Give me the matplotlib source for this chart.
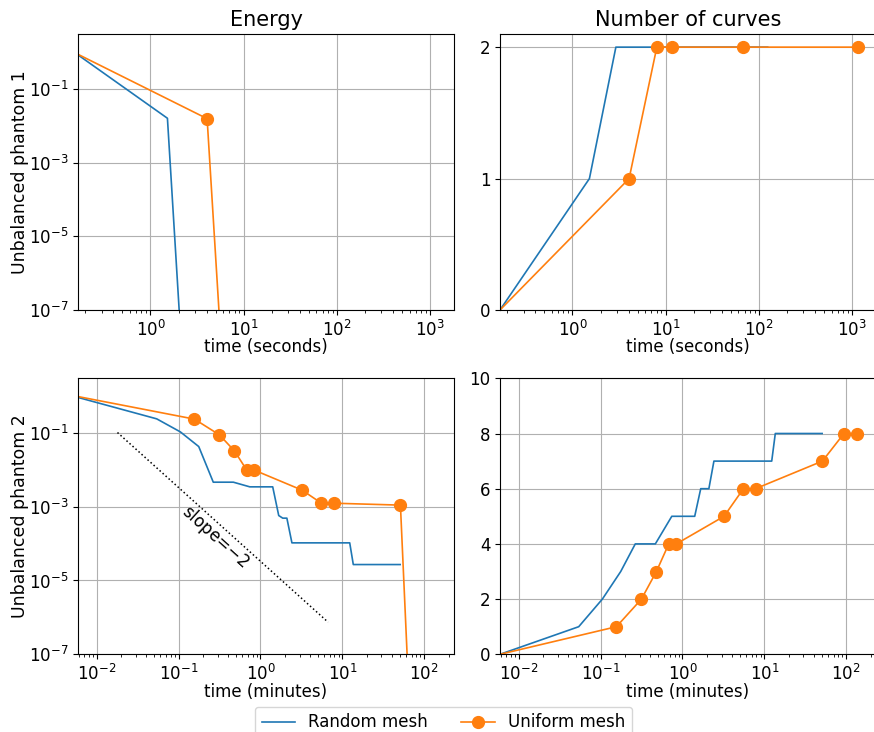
import numpy as np
import matplotlib
matplotlib.use("Agg")
import matplotlib.pyplot as plt
from matplotlib.ticker import NullLocator

# phantom 1, time in seconds
t1_random = [0.167, 1.52, 2.92, 124.0]
e1_random = [0.84, 0.016, 3e-14, 1e-15]
n1_random = [0, 1, 2, 2]

t1_uniform = [0.167, 4.05, 8.03, 11.8, 68.0, 1150.0]
e1_uniform = [0.87, 0.0156, 1e-14, 1e-15, 1e-15, 1e-15]
n1_uniform = [0, 1, 2, 2, 2, 2]

# phantom 2, time in minutes
t2_random = [0.0059, 0.054, 0.105, 0.176, 0.265, 0.466, 0.74, 1.41, 1.67,
             1.87, 2.1, 2.42, 12.3, 13.6, 50.8]
e2_random = [0.91, 0.239, 0.106, 0.0425, 0.0046, 0.0046, 0.00344, 0.00344,
             5.74e-4, 4.88e-4, 4.88e-4, 1.045e-4, 1.045e-4, 2.7e-5, 2.7e-5]
n2_random = [0, 1, 2, 3, 4, 4, 5, 5, 6, 6, 6, 7, 7, 8, 8]

t2_uniform = [0.0059, 0.156, 0.315, 0.48, 0.68, 0.84, 3.22, 5.55, 7.8,
              51.2, 93.8, 136.0]
e2_uniform = [0.96, 0.235, 0.088, 0.0325, 0.00975, 0.00975, 0.0028, 0.00124,
              0.00124, 0.0011, 1e-16, 1e-16]
n2_uniform = [0, 1, 2, 3, 4, 4, 5, 6, 6, 7, 8, 8]

slope_t = [0.0179, 6.7]
slope_e = [0.102, 7.4e-7]

W, H = 874, 732
fig = plt.figure(figsize=(W / 100, H / 100), dpi=100)

def box(x0, y0, x1, y1):
    return [x0 / W, 1 - y1 / H, (x1 - x0) / W, (y1 - y0) / H]

ax_e1 = fig.add_axes(box(78, 34, 454, 310))
ax_n1 = fig.add_axes(box(500, 34, 876, 310))
ax_e2 = fig.add_axes(box(78, 378.3, 454, 654.3))
ax_n2 = fig.add_axes(box(500, 378.3, 876, 654.3))

lw = 1.2
ms = 8.5
rand_kw = dict(color="#1f77b4", lw=lw, label="Random mesh")
unif_kw = dict(color="#ff7f0e", lw=lw, marker="o", markersize=ms,
               markevery=slice(1, None), label="Uniform mesh")

ax_e1.loglog(t1_random, e1_random, **rand_kw)
ax_e1.loglog(t1_uniform, e1_uniform, **unif_kw)
ax_n1.semilogx(t1_random, n1_random, **rand_kw)
ax_n1.semilogx(t1_uniform, n1_uniform, **unif_kw)

ax_e2.loglog(t2_random, e2_random, **rand_kw)
ax_e2.loglog(t2_uniform, e2_uniform, **unif_kw)
ax_e2.loglog(slope_t, slope_e, "k:", lw=1.1)
ax_e2.text(0.278, 1.55e-4, "slope=$-2$", rotation=-42, fontsize=12,
           ha="center", va="center", rotation_mode="anchor")
ax_n2.semilogx(t2_random, n2_random, **rand_kw)
ax_n2.semilogx(t2_uniform, n2_uniform, **unif_kw)

for ax in (ax_e1, ax_n1):
    ax.set_xlim(0.167, 1800)
    ax.set_xlabel("time (seconds)", fontsize=12, labelpad=-1)
for ax in (ax_e2, ax_n2):
    ax.set_xlim(0.0059, 231)
    ax.set_xlabel("time (minutes)", fontsize=12, labelpad=-1)

ax_e1.set_ylim(1e-7, 3.1)
ax_e2.set_ylim(1e-7, 3.0)
for ax in (ax_e1, ax_e2):
    ax.set_yticks([1e-7, 1e-5, 1e-3, 1e-1])
    ax.yaxis.set_minor_locator(NullLocator())

ax_n1.set_ylim(0, 2.1)
ax_n1.set_yticks([0, 1, 2])
ax_n2.set_ylim(0, 10)
ax_n2.set_yticks([0, 2, 4, 6, 8, 10])

ax_e1.set_title("Energy", fontsize=15)
ax_n1.set_title("Number of curves", fontsize=15)
ax_e1.set_ylabel("Unbalanced phantom 1", fontsize=12.5, labelpad=0)
ax_e2.set_ylabel("Unbalanced phantom 2", fontsize=12.5, labelpad=0)

for ax in (ax_e1, ax_n1, ax_e2, ax_n2):
    ax.grid(True)
    ax.tick_params(labelsize=12)

handles, labels = ax_n2.get_legend_handles_labels()
fig.legend(handles, labels, loc="upper center", ncol=2, fontsize=12,
           borderaxespad=0, bbox_to_anchor=(443.4 / W, 1 - 706.7 / H))

fig.savefig("out.png", dpi=100)
